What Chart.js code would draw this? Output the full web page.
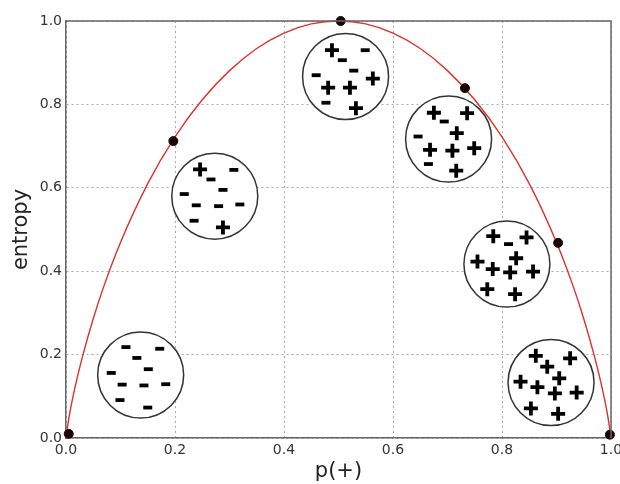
<!DOCTYPE html>
<html>
<head>
<meta charset="utf-8">
<script src="https://cdn.jsdelivr.net/npm/chart.js@4.4.1/dist/chart.umd.min.js"></script>
<style>
  html, body { margin: 0; padding: 0; background: #fff; }
  #wrap { width: 620px; height: 484px; }
</style>
</head>
<body>
<div id="wrap"><canvas id="entropyChart"></canvas></div>
<script>
// entropy curve
const curveP = [0, 0.005, 0.01, 0.02, 0.03, 0.05, 0.07, 0.1, 0.15, 0.2, 0.25, 0.3, 0.35, 0.4, 0.45, 0.5,
                0.55, 0.6, 0.65, 0.7, 0.75, 0.8, 0.85, 0.9, 0.93, 0.95, 0.97, 0.98, 0.99, 0.995, 1.0];
const curveH = [0, 0.045, 0.081, 0.141, 0.194, 0.286, 0.366, 0.469, 0.610, 0.722, 0.811, 0.881, 0.934, 0.971, 0.993, 1.0,
                0.993, 0.971, 0.934, 0.881, 0.811, 0.722, 0.610, 0.469, 0.366, 0.286, 0.194, 0.141, 0.081, 0.045, 0];

// black dots on the curve
const dotP = [0.005, 0.197, 0.504, 0.732, 0.903, 0.998];
const dotH = [0.01, 0.712, 1.0, 0.839, 0.468, 0.008];

// sample circles (centres)
const circleP = [0.137, 0.273, 0.513, 0.702, 0.809, 0.890];
const circleH = [0.151, 0.580, 0.867, 0.717, 0.417, 0.133];

// "+" marks inside circles
const plusP = [0.246, 0.288,
               0.488, 0.481, 0.521, 0.563, 0.532,
               0.675, 0.736, 0.717, 0.668, 0.709, 0.749, 0.716,
               0.784, 0.845, 0.826, 0.755, 0.783, 0.815, 0.857, 0.773, 0.824,
               0.862, 0.925, 0.883, 0.905, 0.834, 0.865, 0.897, 0.937, 0.853, 0.903];
const plusH = [0.644, 0.505,
               0.930, 0.840, 0.840, 0.862, 0.791,
               0.780, 0.779, 0.731, 0.691, 0.689, 0.695, 0.641,
               0.484, 0.481, 0.431, 0.423, 0.405, 0.397, 0.399, 0.357, 0.345,
               0.197, 0.191, 0.171, 0.143, 0.135, 0.122, 0.107, 0.109, 0.071, 0.058];

// "-" marks inside circles
const minusP = [0.110, 0.172, 0.130, 0.151, 0.083, 0.103, 0.143, 0.183, 0.099, 0.150,
                0.308, 0.266, 0.288, 0.217, 0.239, 0.280, 0.319, 0.235,
                0.549, 0.507, 0.528, 0.459, 0.477,
                0.694, 0.646, 0.665,
                0.812];
const minusH = [0.218, 0.214, 0.192, 0.165, 0.156, 0.128, 0.126, 0.129, 0.091, 0.073,
                0.643, 0.620, 0.595, 0.585, 0.558, 0.556, 0.560, 0.521,
                0.930, 0.906, 0.881, 0.870, 0.804,
                0.759, 0.723, 0.657,
                0.465];

const axisTicks = [0, 0.2, 0.4, 0.6, 0.8, 1.0];

const pts = (xs, ys) => xs.map((x, i) => ({ x: x, y: ys[i] }));

// matplotlib-style box: top and right spines
const frame = {
    id: 'frame',
    afterDatasetsDraw(chart) {
        const a = chart.chartArea, ctx = chart.ctx;
        ctx.save();
        ctx.strokeStyle = '#666';
        ctx.lineWidth = 1.5;
        ctx.beginPath();
        ctx.moveTo(a.left, a.top);
        ctx.lineTo(a.right, a.top);
        ctx.lineTo(a.right, a.bottom);
        ctx.stroke();
        ctx.restore();
    }
};

new Chart(document.getElementById('entropyChart'), {
    type: 'scatter',
    data: {
        datasets: [
            {
                data: pts(circleP, circleH),
                pointStyle: 'circle',
                pointRadius: 43,
                backgroundColor: '#fff',
                borderColor: '#333',
                borderWidth: 1.5,
                clip: false,
                order: 4
            },
            {
                data: pts(plusP, plusH),
                pointStyle: 'cross',
                pointRadius: 7,
                borderColor: '#000',
                borderWidth: 3.8,
                order: 3
            },
            {
                data: pts(minusP, minusH),
                pointStyle: 'line',
                pointRadius: 4.5,
                borderColor: '#000',
                borderWidth: 3.8,
                order: 3
            },
            {
                type: 'line',
                data: pts(curveP, curveH),
                borderColor: '#e0302c',
                borderWidth: 1.4,
                pointRadius: 0,
                cubicInterpolationMode: 'monotone',
                fill: false,
                clip: false,
                order: 2
            },
            {
                data: pts(dotP, dotH),
                pointStyle: 'circle',
                pointRadius: 4.5,
                backgroundColor: '#1a0505',
                borderColor: '#1a0505',
                borderWidth: 1,
                clip: false,
                order: 1
            }
        ]
    },
    options: {
        responsive: true,
        maintainAspectRatio: false,
        animation: false,
        events: [],
        layout: { autoPadding: false, padding: { left: 0, right: 9, top: 21, bottom: 0 } },
        plugins: { legend: { display: false }, tooltip: { enabled: false } },
        scales: {
            x: {
                type: 'linear',
                min: 0, max: 1,
                afterBuildTicks: (s) => { s.ticks = axisTicks.map(v => ({ value: v })); },
                afterFit: (s) => { s.height = 46; s.paddingLeft = 0; s.paddingRight = 0; },
                ticks: {
                    padding: 4,
                    color: '#333',
                    font: { family: 'DejaVu Sans', size: 14 },
                    maxRotation: 0,
                    callback: (v) => v.toFixed(1)
                },
                grid: { color: '#aaa', drawTicks: false },
                border: { color: '#666', width: 1.5, dash: [2, 3] },
                title: {
                    display: true,
                    text: 'p(+)',
                    color: '#222',
                    font: { family: 'DejaVu Sans', size: 21 },
                    padding: { top: 0, bottom: 0 }
                }
            },
            y: {
                type: 'linear',
                min: 0, max: 1,
                afterBuildTicks: (s) => { s.ticks = axisTicks.map(v => ({ value: v })); },
                afterFit: (s) => { s.width = 66; s.paddingTop = 0; s.paddingBottom = 0; },
                ticks: {
                    padding: 4,
                    color: '#333',
                    font: { family: 'DejaVu Sans', size: 14 },
                    callback: (v) => v.toFixed(1)
                },
                grid: { color: '#aaa', drawTicks: false },
                border: { color: '#666', width: 1.5, dash: [2, 3] },
                title: {
                    display: true,
                    text: 'entropy',
                    color: '#222',
                    font: { family: 'DejaVu Sans', size: 21 },
                    padding: { top: 9, bottom: 0 }
                }
            }
        }
    },
    plugins: [frame]
});
</script>
</body>
</html>
